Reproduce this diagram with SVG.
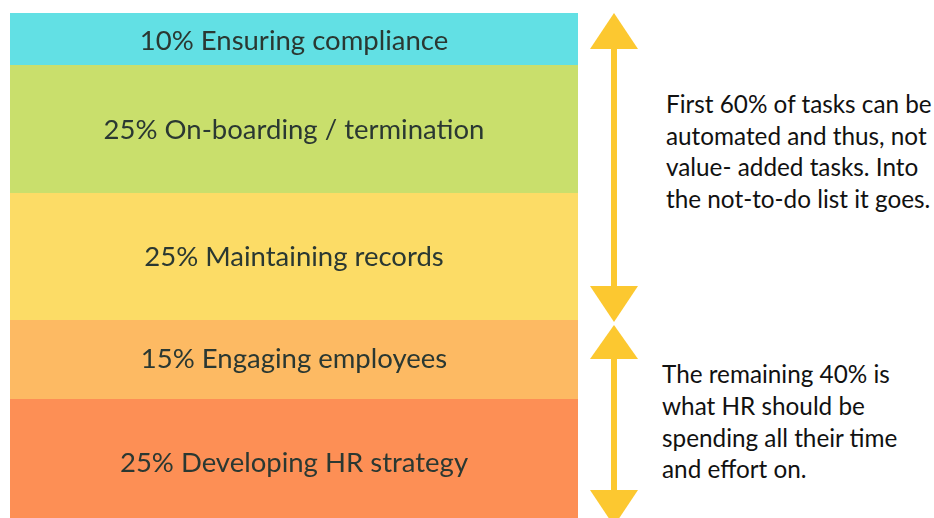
<svg xmlns="http://www.w3.org/2000/svg" width="934" height="518" viewBox="0 0 934 518">
  <defs>
    <filter id="soft" x="-5%" y="-20%" width="110%" height="140%">
      <feGaussianBlur stdDeviation="0.55"/>
    </filter>
  </defs>
  <style>
    .band-label { font-family: "Lato", "Liberation Sans", sans-serif; font-size: 27.5px; fill: #2b3832; text-anchor: middle; filter: url(#soft); }
    .note { font-family: "Lato", "Open Sans", sans-serif; font-size: 24.3px; fill: #111; }
    .shaft { stroke: #FCC830; stroke-width: 6; fill: none; }
    .head { fill: #FCC830; }
  </style>
  <rect width="934" height="518" fill="#ffffff"/>

  <g id="band-compliance">
    <rect x="10" y="13" width="568" height="52" fill="#62E0E4"/>
    <text class="band-label" x="294" y="50">10% Ensuring compliance</text>
  </g>
  <g id="band-onboarding">
    <rect x="10" y="65" width="568" height="128" fill="#C9DF6C"/>
    <text class="band-label" x="294" y="139">25% On-boarding / termination</text>
  </g>
  <g id="band-records">
    <rect x="10" y="193" width="568" height="127" fill="#FCDC66"/>
    <text class="band-label" x="294" y="266">25% Maintaining records</text>
  </g>
  <g id="band-engaging">
    <rect x="10" y="320" width="568" height="79" fill="#FDBA63"/>
    <text class="band-label" x="294" y="368">15% Engaging employees</text>
  </g>
  <g id="band-strategy">
    <rect x="10" y="399" width="568" height="119" fill="#FD8F55"/>
    <text class="band-label" x="294" y="472">25% Developing HR strategy</text>
  </g>

  <g id="connectors">
    <!-- first span: top 60% -->
    <line class="shaft" x1="614" y1="45" x2="614" y2="290"/>
    <polygon class="head" points="614,13 638,49 590,49"/>
    <polygon class="head" points="590,286 638,286 614,322"/>
    <!-- second span: remaining 40% -->
    <line class="shaft" x1="614" y1="355" x2="614" y2="495"/>
    <polygon class="head" points="614,325 638,359 590,359"/>
    <polygon class="head" points="590,490 638,490 614,526"/>
  </g>

  <g id="note-automated">
    <text class="note" x="666" y="113">First 60% of tasks can be</text>
    <text class="note" x="666" y="145">automated and thus, not</text>
    <text class="note" x="666" y="176">value- added tasks. Into</text>
    <text class="note" x="666" y="208">the not-to-do list it goes.</text>
  </g>
  <g id="note-remaining">
    <text class="note" x="662" y="383">The remaining 40% is</text>
    <text class="note" x="662" y="415">what HR should be</text>
    <text class="note" x="662" y="447">spending all their time</text>
    <text class="note" x="662" y="478">and effort on.</text>
  </g>
</svg>
